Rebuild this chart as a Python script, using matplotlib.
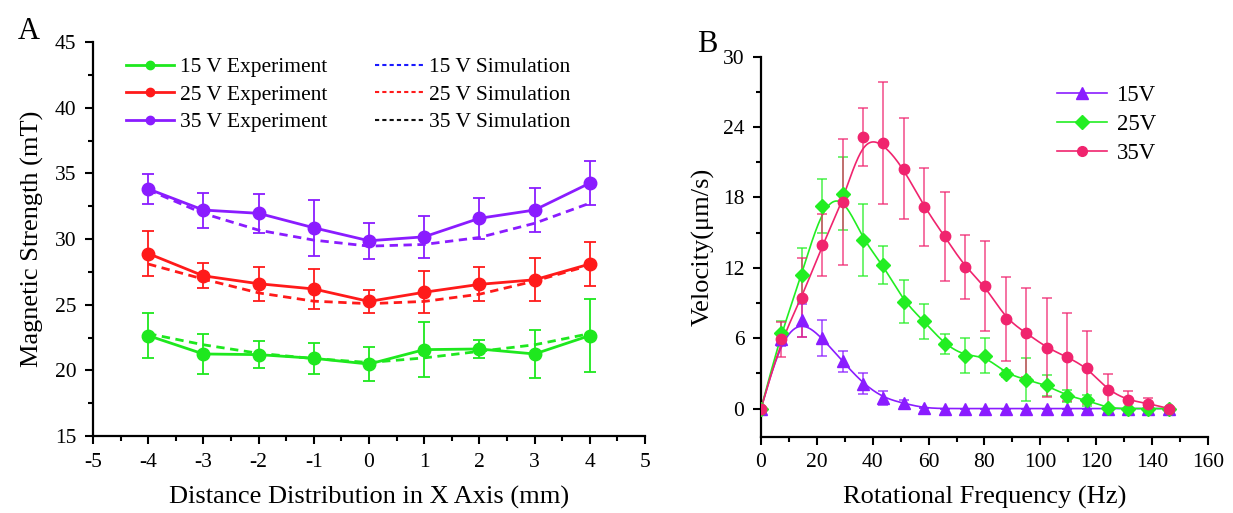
import numpy as np
import matplotlib
matplotlib.use("Agg")
import matplotlib.pyplot as plt
from matplotlib.lines import Line2D
from matplotlib.ticker import MultipleLocator

plt.rcParams['font.family'] = ['Liberation Serif', 'DejaVu Serif']
plt.rcParams['axes.unicode_minus'] = False

# ---------------- Panel A data ----------------
dist_mm = [-4, -3, -2, -1, 0, 1, 2, 3, 4]
exp_15 = [22.65, 21.25, 21.2, 20.92, 20.48, 21.58, 21.63, 21.25, 22.65]
err_15 = [1.7, 1.5, 1.0, 1.2, 1.3, 2.1, 0.7, 1.8, 2.8]
sim_15 = [22.8, 21.95, 21.3, 20.9, 20.6, 20.95, 21.45, 21.95, 22.8]
exp_25 = [28.9, 27.2, 26.6, 26.2, 25.25, 25.95, 26.55, 26.9, 28.1]
err_25 = [1.7, 0.95, 1.3, 1.5, 0.9, 1.6, 1.3, 1.65, 1.7]
sim_25 = [28.1, 26.95, 25.9, 25.27, 25.08, 25.25, 25.8, 26.8, 28.0]
exp_35 = [33.82, 32.21, 31.96, 30.86, 29.87, 30.17, 31.58, 32.21, 34.26]
err_35 = [1.13, 1.33, 1.48, 2.12, 1.37, 1.6, 1.58, 1.7, 1.7]
sim_35 = [33.75, 31.95, 30.68, 29.92, 29.46, 29.59, 30.12, 31.2, 32.73]

# ---------------- Panel B data ----------------
freq_hz = [0, 7.3, 14.6, 21.9, 29.2, 36.5, 43.8, 51.1, 58.4, 65.7, 73.0,
           80.3, 87.6, 94.9, 102.2, 109.5, 116.8, 124.1, 131.4, 138.7, 146.0]
vel_15 = [0, 5.97, 7.53, 6.02, 4.03, 2.13, 0.91, 0.45, 0.05, 0, 0,
          0, 0, 0, 0, 0, 0, 0, 0, 0, 0]
verr_15 = [0, 0.6, 1.4, 1.5, 0.9, 0.9, 0.6, 0.3, 0, 0, 0,
           0, 0, 0, 0, 0, 0, 0, 0, 0, 0]
vel_25 = [0, 6.48, 11.42, 17.27, 18.32, 14.35, 12.22, 9.12, 7.44, 5.48, 4.49,
          4.49, 2.98, 2.47, 1.99, 1.08, 0.71, 0.03, 0, 0, 0]
verr_25 = [0, 1.0, 2.3, 2.3, 3.1, 3.05, 1.6, 1.8, 1.5, 0.85, 1.5,
           1.5, 0.3, 1.8, 0.9, 0.5, 0.45, 0.1, 0, 0, 0]
vel_35 = [0, 5.91, 9.46, 13.92, 17.61, 23.15, 22.64, 20.45, 17.19, 14.69, 12.07,
          10.45, 7.64, 6.45, 5.2, 4.4, 3.49, 1.56, 0.71, 0.43, 0]
verr_35 = [0, 1.5, 3.4, 2.65, 5.4, 2.5, 5.2, 4.3, 3.3, 3.8, 2.7,
           3.8, 3.6, 3.8, 4.2, 3.75, 3.1, 1.4, 0.77, 0.5, 0]

A_GREEN = '#1ee81e'
A_RED = '#ff1a1a'
A_PURPLE = '#8a1cff'
B_PURPLE = '#8a1cff'
B_GREEN = '#22ee22'
B_PINK = '#f0246e'


def bspline(x, y, n=30):
    """Uniform cubic B-spline (clamped) through control points, like Origin's B-spline."""
    px = np.concatenate([[x[0]] * 2, x, [x[-1]] * 2]).astype(float)
    py = np.concatenate([[y[0]] * 2, y, [y[-1]] * 2]).astype(float)
    t = np.linspace(0, 1, n, endpoint=False)
    b0 = (1 - t) ** 3 / 6
    b1 = (3 * t ** 3 - 6 * t ** 2 + 4) / 6
    b2 = (-3 * t ** 3 + 3 * t ** 2 + 3 * t + 1) / 6
    b3 = t ** 3 / 6
    xs, ys = [], []
    for i in range(len(px) - 3):
        xs.append(b0 * px[i] + b1 * px[i + 1] + b2 * px[i + 2] + b3 * px[i + 3])
        ys.append(b0 * py[i] + b1 * py[i + 1] + b2 * py[i + 2] + b3 * py[i + 3])
    xs.append([x[-1]])
    ys.append([y[-1]])
    return np.concatenate(xs), np.concatenate(ys)


fig = plt.figure(figsize=(12.33, 5.13), dpi=100)

# ================= Panel A =================
axA = fig.add_axes([0.0754, 0.150, 0.4477, 0.768])
for exp, err, sim, col in [(exp_15, err_15, sim_15, A_GREEN),
                           (exp_25, err_25, sim_25, A_RED),
                           (exp_35, err_35, sim_35, A_PURPLE)]:
    axA.plot(dist_mm, sim, linestyle=(0, (3, 2)), color=col, lw=2.0, zorder=2)
    axA.errorbar(dist_mm, exp, yerr=err, color=col, lw=2.0, marker='o', ms=9,
                 ecolor=col, elinewidth=1.3, capsize=4, capthick=1.3, zorder=3)

axA.set_xlim(-5, 5)
axA.set_ylim(15, 45)
axA.xaxis.set_major_locator(MultipleLocator(1))
axA.xaxis.set_minor_locator(MultipleLocator(0.5))
axA.yaxis.set_major_locator(MultipleLocator(5))
axA.yaxis.set_minor_locator(MultipleLocator(2.5))
axA.set_xlabel('Distance Distribution in X Axis (mm)', fontsize=19, labelpad=10)
axA.set_ylabel('Magnetic Strength (mT)', fontsize=19, labelpad=8)

handlesA = [
    Line2D([], [], color=A_GREEN, lw=2, marker='o', ms=6),
    Line2D([], [], color=A_RED, lw=2, marker='o', ms=6),
    Line2D([], [], color=A_PURPLE, lw=2, marker='o', ms=6),
    Line2D([], [], color='#1a1aff', lw=1.5, linestyle=(0, (2, 1.5))),
    Line2D([], [], color='#ff1a1a', lw=1.5, linestyle=(0, (2, 1.5))),
    Line2D([], [], color='#111111', lw=1.5, linestyle=(0, (2, 1.5))),
]
labelsA = ['15 V Experiment', '25 V Experiment', '35 V Experiment',
           '15 V Simulation', '25 V Simulation', '35 V Simulation']
axA.legend(handlesA, labelsA, ncol=2, frameon=False, fontsize=15.5,
           loc='upper left', bbox_to_anchor=(0.032, 1.0), handlelength=2.23,
           handletextpad=0.28, columnspacing=2.23, labelspacing=0.35, borderaxespad=0.3)
fig.text(18 / 1233, 1 - 39 / 513, 'A', fontsize=22, ha='left', va='baseline')

# ================= Panel B =================
axB = fig.add_axes([0.6172, 0.1487, 0.3625, 0.7408])
for vel, verr, col, mk, ms in [(vel_15, verr_15, B_PURPLE, '^', 8),
                               (vel_25, verr_25, B_GREEN, 'D', 7),
                               (vel_35, verr_35, B_PINK, 'o', 7.5)]:
    sx, sy = bspline(np.array(freq_hz), np.array(vel))
    axB.plot(sx, sy, color=col, lw=1.2, zorder=2)
    axB.errorbar(freq_hz, vel, yerr=verr, fmt='none', ecolor=col, elinewidth=1.2,
                 capsize=3.5, capthick=1.2, alpha=0.75, zorder=2)
    axB.plot(freq_hz, vel, linestyle='none', marker=mk, ms=ms, color=col, zorder=3)

handlesB = [Line2D([], [], color=B_PURPLE, lw=1.2, marker='^', ms=8),
            Line2D([], [], color=B_GREEN, lw=1.2, marker='D', ms=7),
            Line2D([], [], color=B_PINK, lw=1.2, marker='o', ms=7)]
axB.legend(handlesB, ['15V', '25V', '35V'], frameon=False, fontsize=16.5,
           loc='upper left', bbox_to_anchor=(0.617, 0.979), handlelength=2.18,
           handletextpad=0.4, labelspacing=0.35)

axB.set_xlim(0, 160)
axB.set_ylim(-2.4, 30)
axB.xaxis.set_major_locator(MultipleLocator(20))
axB.xaxis.set_minor_locator(MultipleLocator(10))
axB.set_yticks([0, 6, 12, 18, 24, 30])
axB.yaxis.set_minor_locator(MultipleLocator(3))
axB.set_xlabel('Rotational Frequency (Hz)', fontsize=19, labelpad=10)
axB.set_ylabel('Velocity(μm/s)', fontsize=19, labelpad=6)
fig.text(697 / 1233, 1 - 52 / 513, 'B', fontsize=22, ha='left', va='baseline')

for ax in (axA, axB):
    for s in ('top', 'right'):
        ax.spines[s].set_visible(False)
    for s in ('left', 'bottom'):
        ax.spines[s].set_linewidth(1.6)
    ax.tick_params(which='major', direction='out', length=6, width=1.5, labelsize=15.5, pad=6)
    ax.tick_params(which='minor', direction='out', length=3.5, width=1.5)

fig.savefig('out.png', dpi=100)
